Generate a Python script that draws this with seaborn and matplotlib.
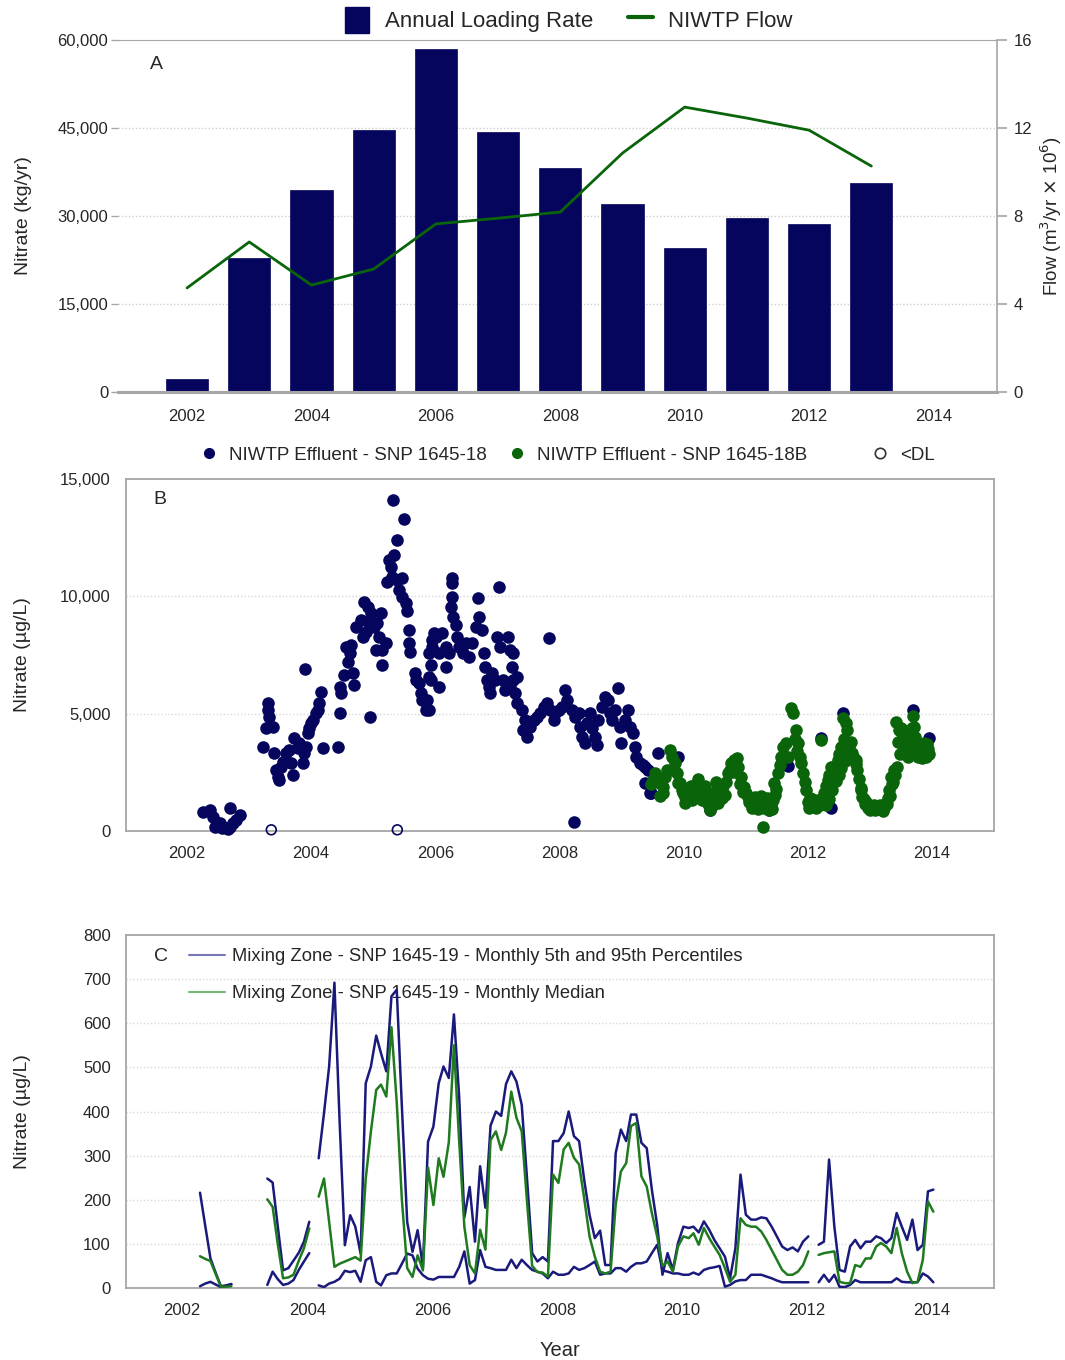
import numpy as np
import pandas as pd
import matplotlib
matplotlib.use("Agg")
import matplotlib.pyplot as plt
import seaborn as sns
from matplotlib.lines import Line2D
from matplotlib.patches import Patch

# ---------------- data ----------------
years_a = [2002, 2003, 2004, 2005, 2006, 2007, 2008, 2009, 2010, 2011, 2012, 2013]
loading_kg = [2200, 22900, 34400, 44700, 58500, 44300, 38200, 32000, 24600, 29700, 28700, 35700]
flow_m3 = [4.73, 6.82, 4.86, 5.59, 7.64, 7.9, 8.18, 10.86, 12.95, 12.45, 11.9, 10.27]

navy_year = [2002.26, 2002.37, 2002.42, 2002.45, 2002.48, 2002.53, 2002.56, 2002.58, 2002.64, 2002.66, 2002.69, 2002.70, 2002.74, 2002.79, 2002.85,
             2003.23, 2003.28, 2003.31, 2003.31, 2003.33, 2003.39, 2003.40, 2003.44, 2003.47, 2003.49, 2003.52, 2003.55, 2003.60, 2003.65, 2003.68,
             2003.71, 2003.73, 2003.79, 2003.81, 2003.87, 2003.89, 2003.91, 2003.92, 2003.95, 2003.97, 2004.00, 2004.03, 2004.08, 2004.11, 2004.13,
             2004.16, 2004.19, 2004.43, 2004.46, 2004.48, 2004.46, 2004.53, 2004.59, 2004.56, 2004.62, 2004.67, 2004.70, 2004.64, 2004.72, 2004.80,
             2004.86, 2004.91, 2004.96, 2004.94, 2004.88, 2004.83, 2005.02, 2005.07, 2005.13, 2005.10, 2005.04, 2005.15, 2005.20, 2005.15, 2004.95,
             2005.23, 2005.26, 2005.34, 2005.29, 2005.31, 2005.39, 2005.47, 2005.42, 2005.46, 2005.53, 2005.55, 2005.32, 2005.50, 2005.39, 2005.58,
             2005.58, 2005.59, 2005.68, 2005.74, 2005.77, 2005.79, 2005.85, 2005.87, 2005.69, 2005.90, 2005.95, 2005.98, 2005.90, 2005.93,
             2005.95, 2006.01, 2005.93, 2005.90, 2006.06, 2006.11, 2006.06, 2006.17, 2006.17, 2006.22, 2006.27, 2006.27, 2006.27, 2006.26, 2006.29,
             2006.33, 2006.35, 2006.38, 2006.44, 2006.49, 2006.54, 2006.60, 2006.65, 2006.70, 2006.69, 2006.76, 2006.78, 2006.81, 2006.84, 2006.86,
             2006.89, 2006.92, 2006.97, 2007.00, 2007.03, 2007.05, 2007.10, 2007.13, 2007.18, 2007.21, 2007.26, 2007.24, 2007.26, 2007.21, 2007.32,
             2007.29, 2007.32, 2007.40, 2007.45, 2007.42, 2007.48, 2007.53, 2007.59, 2007.64, 2007.69, 2007.75, 2007.80, 2007.83, 2007.85, 2007.91,
             2007.93, 2007.99, 2008.04, 2008.09, 2008.12, 2008.20, 2008.25, 2008.31, 2008.33, 2008.36, 2008.41, 2008.44, 2008.49, 2008.52, 2008.58,
             2008.60, 2008.63, 2008.68, 2008.74, 2008.79, 2008.82, 2008.84, 2008.90, 2008.95, 2008.98, 2009.00, 2009.06, 2009.11, 2009.14, 2009.19,
             2009.22, 2009.24, 2009.30, 2009.35, 2009.38, 2009.43, 2009.38, 2009.46, 2009.59, 2008.23, 2009.48,
             2009.91, 2010.42, 2011.38, 2011.68, 2012.37, 2013.95, 2012.56, 2013.69, 2012.21]
navy_value = [824, 895, 611, 185, 327, 327, 114, 185, 114, 70, 185, 966, 327, 469, 682,
              3593, 4374, 5467, 5155, 4870, 4445, 3309, 2599, 2315, 2173, 2741, 2954, 3309, 3451, 2883,
              2386, 3948, 3522, 3735, 2883, 3309, 6887, 3593, 4161, 4374, 4587, 4729, 5013, 5155, 5467,
              5936, 3522, 3593, 5013, 5865, 6149, 6646, 7214, 7853, 7569, 6717, 6220, 7924, 8705, 8989,
              9770, 9557, 9273, 8847, 8492, 8279, 8705, 8847, 9273, 8279, 7711, 7711, 7995, 7072, 4870,
              10622, 11545, 11758, 11261, 10835, 10693, 10764, 10267, 9983, 9699, 9386, 14101, 13277, 12397, 8563,
              7995, 7640, 6717, 6291, 5865, 5581, 5155, 5581, 6433, 7569, 8137, 8421, 6575, 7072,
              7853, 8279, 6433, 5155, 7569, 8421, 6149, 7853, 7001, 7569, 10764, 10551, 9983, 9557, 9131,
              8776, 8279, 7853, 7569, 7995, 7427, 7995, 8705, 9131, 9912, 8563, 7569, 7001, 6433, 6149,
              5865, 6717, 6433, 8279, 10409, 7853, 6433, 6007, 8279, 7711, 7569, 7001, 6433, 6149, 6575,
              5865, 5439, 5155, 4729, 4303, 4019, 4445, 4729, 4871, 5013, 5297, 5439, 8208, 5155, 4729,
              5013, 5155, 5297, 6007, 5581, 5155, 4871, 5013, 4445, 4019, 3735, 4587, 5013, 4374, 4019,
              3664, 4729, 5297, 5723, 5581, 5013, 4729, 5155, 6078, 4445, 3735, 4729, 5155, 4445, 4161,
              3593, 3167, 2883, 2812, 2741, 2599, 2031, 1605, 3309, 398, 1619,
              3167, 895, 895, 2769, 966, 3948, 5013, 5155, 3948]

green_year = [2009.54, 2009.51, 2009.57, 2009.67, 2009.67, 2009.73, 2009.78, 2009.81, 2009.86, 2009.89, 2009.91, 2009.97, 2010.02,
              2009.94, 2009.99, 2010.05, 2010.10, 2010.15, 2010.21, 2010.26, 2010.31, 2010.37, 2010.42, 2010.45, 2010.50, 2010.56, 2010.61,
              2010.66, 2010.72, 2010.77, 2010.82, 2010.88, 2010.93, 2010.98, 2011.04, 2011.09, 2011.17, 2011.22, 2011.28, 2011.33, 2011.38,
              2011.44, 2011.46, 2011.52, 2011.28, 2011.57, 2011.60, 2011.65, 2011.68, 2011.73, 2011.76, 2011.81, 2011.84, 2011.87, 2011.92,
              2011.97, 2012.00, 2012.05, 2012.11, 2012.16, 2012.21, 2012.27, 2012.32, 2012.37, 2012.43, 2012.48, 2012.54, 2012.56, 2012.62,
              2012.64, 2012.67, 2012.72, 2012.78, 2012.80, 2012.86, 2012.88, 2012.94, 2012.99, 2013.04, 2013.12, 2013.20, 2013.26, 2013.31,
              2013.34, 2013.39, 2013.44, 2013.42, 2013.47, 2013.52, 2013.58, 2013.61, 2013.66, 2013.69, 2013.71, 2013.74, 2013.77, 2013.82,
              2013.87, 2013.90,
              2010.08, 2010.13, 2010.19, 2010.24, 2010.29, 2010.34, 2010.40, 2010.48, 2010.53, 2010.58, 2010.64, 2011.13, 2011.20, 2011.25,
              2011.31, 2011.36, 2011.41, 2011.49, 2011.55, 2012.03, 2012.08, 2012.13, 2012.19, 2012.25, 2012.30, 2012.35, 2012.40, 2012.46,
              2012.51, 2012.58, 2012.69, 2012.75, 2012.83, 2012.91, 2012.97, 2013.01, 2013.08, 2013.15, 2013.23, 2013.29, 2013.36, 2013.41,
              2013.46, 2013.50, 2013.55, 2013.63, 2013.68, 2013.73, 2013.79, 2013.84, 2013.93, 2009.48, 2009.62, 2009.70, 2009.83,
              2010.03, 2010.12, 2010.17, 2010.27, 2010.33, 2010.39, 2010.46, 2010.52, 2010.55, 2010.62, 2010.69, 2010.75, 2010.80, 2010.86,
              2010.91, 2010.96, 2011.01, 2011.06, 2011.11, 2011.15, 2011.19, 2011.24, 2011.30, 2011.35, 2011.40, 2011.43, 2011.48, 2011.79,
              2011.83, 2011.89, 2011.95, 2012.02, 2012.07, 2012.14, 2012.23, 2012.29, 2012.34, 2012.39, 2012.45, 2012.50, 2012.53, 2012.60,
              2012.66, 2012.70, 2012.77, 2012.85, 2012.92, 2013.00, 2013.06, 2013.10, 2013.17, 2013.22, 2013.28, 2013.33, 2013.38, 2013.48,
              2013.54, 2013.60, 2013.65, 2013.70, 2013.76, 2013.81, 2013.86, 2013.92, 2013.96]
green_value = [2457, 2173, 2102, 1889, 1605, 2599, 3451, 3167, 2883, 2457, 2031, 1747, 1463,
               2031, 1605, 1392, 1534, 1747, 2031, 1747, 1534, 1321, 895, 1321, 1605, 1889, 1818,
               1534, 2457, 2883, 3025, 2741, 2315, 1889, 1463, 1179, 1108, 1321, 1179, 1108, 895,
               1321, 2031, 2457, 185, 3167, 3593, 3735, 3167, 5226, 5013, 4303, 3735, 3167, 2457,
               1747, 1250, 1179, 1250, 1321, 3877, 1605, 2173, 2741, 2599, 3025, 3593, 4800, 4587,
               4303, 3593, 3309, 3025, 2599, 1747, 1463, 1250, 1108, 966, 966, 966, 1179, 1747,
               2315, 2599, 2741, 4658, 4303, 4161, 3877, 3167, 4019, 4900, 4445, 3593, 3167, 3309,
               3735, 3167,
               1750, 1300, 1600, 2200, 1300, 1900, 1500, 1300, 2100, 1500, 1900, 1350, 950, 1500,
               1300, 1250, 1100, 1800, 2800, 1400, 1050, 1150, 1100, 1300, 1900, 2400, 2300, 2800,
               3300, 3900, 3800, 3100, 2200, 1350, 1000, 1050, 900, 1050, 1000, 1400, 2000, 2400,
               3800, 4400, 3500, 3500, 4400, 4000, 3600, 3100, 3500, 2000, 1500, 2300, 2600,
               1200, 1900, 1450, 1550, 1750, 1150, 1050, 1700, 1200, 1400, 2100, 2600, 2500, 3100,
               2000, 1650, 1600, 1250, 1000, 1450, 1150, 1050, 1000, 1400, 1300, 950, 1550, 3900,
               3400, 2900, 2100, 1000, 1350, 1000, 1250, 1100, 1350, 1750, 2150, 2400, 2700, 3000,
               3400, 3300, 2850, 1850, 1150, 900, 1100, 950, 1100, 850, 1150, 1500, 2100, 3300,
               4000, 3400, 3700, 3900, 3300, 3500, 3400, 3700, 3300]

dl_year = [2003.36, 2005.39]
dl_value = [50, 50]

# Panel C: monthly percentiles of the mixing zone, in four sampling periods
seg_start = ["2002-04-15", "2003-05-13", "2004-03-08", "2012-03-08"]
p95_s1 = [216, 142, 67, 35, 4, 6, 9]
med_s1 = [72, 66, 61, 32, 3, 3, 4]
p05_s1 = [4, 10, 14, 8, 2, 5, 8]
p95_s2 = [248, 239, 140, 40, 45, 62, 80, 105, 150]
med_s2 = [201, 184, 100, 22, 24, 30, 62, 90, 135]
p05_s2 = [7, 37, 20, 7, 10, 18, 41, 60, 79]
p95_s3 = [294, 396, 502, 692, 380, 97, 165, 139, 78, 464,
          502, 572, 532, 491, 661, 676, 411, 150, 82, 131,
          48, 332, 366, 464, 502, 476, 620, 430, 160, 229,
          105, 276, 182, 368, 400, 390, 462, 491, 468, 415,
          253, 79, 60, 70, 60, 333, 333, 351, 400, 344,
          333, 242, 166, 113, 130, 52, 52, 306, 359, 333,
          393, 393, 329, 317, 223, 143, 30, 79, 41, 102,
          139, 136, 139, 126, 151, 132, 109, 90, 71, 22,
          90, 257, 166, 155, 155, 160, 158, 139, 117, 94,
          86, 92, 83, 105, 117]
med_s3 = [207, 248, 150, 48, 55, 60, 65, 70, 62, 248,
          355, 449, 461, 434, 591, 420, 200, 45, 25, 74,
          40, 273, 188, 294, 252, 330, 550, 330, 139, 52,
          33, 132, 87, 335, 355, 313, 352, 445, 386, 355,
          200, 50, 36, 35, 26, 257, 238, 314, 329, 295,
          280, 200, 117, 71, 37, 33, 37, 189, 264, 283,
          367, 374, 253, 230, 170, 117, 50, 60, 37, 94,
          117, 113, 124, 98, 136, 113, 94, 75, 45, 14,
          30, 158, 143, 139, 139, 128, 109, 86, 64, 41,
          30, 30, 37, 52, 83]
p05_s3 = [6, 2, 10, 14, 21, 39, 36, 39, 14, 63,
          70, 14, 6, 29, 33, 33, 55, 78, 74, 44,
          29, 21, 19, 25, 25, 25, 25, 48, 83, 10,
          18, 86, 48, 45, 41, 41, 41, 64, 45, 64,
          52, 41, 37, 33, 22, 37, 30, 30, 33, 48,
          41, 45, 52, 60, 30, 33, 33, 45, 45, 37,
          48, 56, 56, 60, 79, 98, 40, 37, 33, 33,
          30, 30, 35, 30, 41, 45, 47, 50, 3, 7,
          15, 18, 18, 30, 30, 30, 26, 22, 17, 13,
          13, 13, 13, 13, 13]
p95_s4 = [98, 105, 291, 139, 41, 37, 94, 109, 90, 105, 105, 117, 113, 102, 113, 170, 139, 109, 155, 86, 98, 219, 223]
med_s4 = [75, 79, 81, 83, 14, 11, 11, 52, 48, 67, 67, 94, 102, 94, 79, 136, 79, 37, 11, 14, 64, 196, 173]
p05_s4 = [13, 30, 14, 30, 3, 2, 7, 18, 13, 13, 13, 13, 13, 13, 13, 22, 14, 13, 13, 13, 33, 26, 13]

year_ticks = [2002, 2004, 2006, 2008, 2010, 2012, 2014]
legend_b_labels = ["NIWTP Effluent - SNP 1645-18", "NIWTP Effluent - SNP 1645-18B", "<DL"]

# ---------------- style ----------------
NAVY = "#05055e"
GREEN = "#0a640a"
LNAVY = "#1a1a7c"
LGREEN = "#207a20"
GRAY = "#a6a6a6"

sns.set_style("white")
plt.rcParams["font.family"] = ["Liberation Sans", "DejaVu Sans"]

fig = plt.figure(figsize=(10.65, 13.6), dpi=100)
W, H = 1065.0, 1360.0


def box(l, t, r, b):
    return [l / W, 1 - b / H, (r - l) / W, (b - t) / H]


# ---------------- Panel A ----------------
axA = fig.add_axes(box(118, 40, 997, 392))
dfa = pd.DataFrame({"year": years_a, "load": loading_kg, "flow": flow_m3})
sns.barplot(data=dfa, x="year", y="load", native_scale=True, width=0.68,
            color=NAVY, saturation=1, edgecolor=NAVY, linewidth=0.5, ax=axA)
axA.set_xlim(2000.89, 2015.02)
axA.set_ylim(0, 60000)
axA.set_yticks([0, 15000, 30000, 45000, 60000])
axA.set_yticklabels(["0", "15,000", "30,000", "45,000", "60,000"])
axA.set_xticks(year_ticks)
axA.set_xticklabels([str(y) for y in year_ticks])
for v in [15000, 30000, 45000]:
    axA.axhline(v, color="#d0d0d0", lw=1, ls=(0, (1, 1.5)), zorder=0)
axA.spines["left"].set_visible(False)
axA.spines["top"].set_color(GRAY)
axA.spines["right"].set_visible(False)
axA.spines["bottom"].set_color(GRAY)
axA.spines["bottom"].set_linewidth(2.2)
axA.tick_params(axis="x", length=6, color=GRAY, width=1.2, pad=6, labelsize=12)
axA.tick_params(axis="y", length=5, color=GRAY, width=1, pad=2, labelsize=12)
axA.set_xlabel("")
axA.set_ylabel("Nitrate (kg/yr)", fontsize=14)
axA.yaxis.set_label_coords(-0.098, 0.5)
axA.text(0.036, 0.955, "A", transform=axA.transAxes, fontsize=14, va="top")

axA2 = axA.twinx()
sns.lineplot(data=dfa, x="year", y="flow", color=GREEN, lw=2, ax=axA2)
axA2.set_ylim(0, 16)
axA2.set_yticks([0, 4, 8, 12, 16])
axA2.set_yticklabels(["0", "4", "8", "12", "16"])
for sp in ["left", "top", "bottom"]:
    axA2.spines[sp].set_visible(False)
axA2.spines["right"].set_color(GRAY)
axA2.spines["right"].set_linewidth(1.2)
axA2.tick_params(axis="y", length=7, color=GRAY, width=1.2, pad=5, labelsize=12)
axA2.set_ylabel(r"Flow (m$^3$/yr $\times$ 10$^6$)", fontsize=13.5)
axA2.yaxis.set_label_coords(1.047, 0.5)

fig.legend(handles=[Patch(facecolor=NAVY, edgecolor=NAVY), Line2D([], [], color=GREEN, lw=3)],
           labels=["Annual Loading Rate", "NIWTP Flow"], ncol=2, frameon=False,
           loc="center", bbox_to_anchor=(0.534, 1 - 20 / H), prop={"size": 16},
           handlelength=1.1, handleheight=1.4, columnspacing=1.6, handletextpad=0.7)

# ---------------- Panel B ----------------
axB = fig.add_axes(box(126, 479, 994, 831))
dfn = pd.DataFrame({"year": navy_year, "value": navy_value})
dfg = pd.DataFrame({"year": green_year, "value": green_value})
dfd = pd.DataFrame({"year": dl_year, "value": dl_value})
sns.scatterplot(data=dfn, x="year", y="value", color=NAVY, s=82, linewidth=0, ax=axB, clip_on=False, zorder=3)
sns.scatterplot(data=dfg, x="year", y="value", color=GREEN, s=82, linewidth=0, ax=axB, clip_on=False, zorder=4)
sns.scatterplot(data=dfd, x="year", y="value", facecolor="none", edgecolor=NAVY, s=50, linewidth=1.2,
                ax=axB, clip_on=False, zorder=4)
axB.set_xlim(2001.02, 2015.0)
axB.set_ylim(0, 15000)
axB.set_yticks([0, 5000, 10000, 15000])
axB.set_yticklabels(["0", "5,000", "10,000", "15,000"])
axB.set_xticks(year_ticks)
for v in [5000, 10000]:
    axB.axhline(v, color="#d8d8d8", lw=1, ls=(0, (1, 1.5)), zorder=0)
axB.set_xlabel("")
axB.set_ylabel("Nitrate (\u00b5g/L)", fontsize=14)
axB.yaxis.set_label_coords(-0.110, 0.5)
axB.text(0.032, 0.965, "B", transform=axB.transAxes, fontsize=14, va="top")

b_handles = [Line2D([], [], ls="none", marker="o", ms=7, mfc=NAVY, mec=NAVY),
             Line2D([], [], ls="none", marker="o", ms=7, mfc=GREEN, mec=GREEN),
             Line2D([], [], ls="none", marker="o", ms=7.5, mfc="none", mec="#333333", mew=1.2)]
for hnd, lab, xl in zip(b_handles, legend_b_labels, [203, 511, 874]):
    fig.legend(handles=[hnd], labels=[lab], frameon=False, loc="center left",
               bbox_to_anchor=(xl / W, 1 - 455 / H), prop={"size": 13.5},
               handlelength=0.6, handletextpad=0.8, borderpad=0, borderaxespad=0)

# ---------------- Panel C ----------------
axC = fig.add_axes(box(126, 935, 994, 1288))
segments = [(seg_start[0], p95_s1, med_s1, p05_s1),
            (seg_start[1], p95_s2, med_s2, p05_s2),
            (seg_start[2], p95_s3, med_s3, p05_s3),
            (seg_start[3], p95_s4, med_s4, p05_s4)]
for start, p95, med, p05 in segments:
    dates = pd.date_range(start, periods=len(p95), freq=pd.DateOffset(months=1))
    t = dates.year + (dates.dayofyear - 1) / 365.25
    d = pd.DataFrame({"t": t, "p95": p95, "med": med, "p05": p05})
    sns.lineplot(data=d, x="t", y="p95", color=LNAVY, lw=1.8, ax=axC, zorder=3)
    sns.lineplot(data=d, x="t", y="p05", color=LNAVY, lw=1.8, ax=axC, zorder=3)
    sns.lineplot(data=d, x="t", y="med", color=LGREEN, lw=1.8, ax=axC, zorder=4)
axC.set_xlim(2001.1, 2014.99)
axC.set_ylim(0, 800)
axC.set_yticks(range(0, 801, 100))
axC.set_xticks(year_ticks)
for v in range(100, 800, 100):
    axC.axhline(v, color="#d8d8d8", lw=1, ls=(0, (1, 1.5)), zorder=0)
axC.set_xlabel("Year", fontsize=14.5, labelpad=16)
axC.set_ylabel("Nitrate (\u00b5g/L)", fontsize=14)
axC.yaxis.set_label_coords(-0.110, 0.5)
axC.text(0.032, 0.962, "C", transform=axC.transAxes, fontsize=14, va="top")
legC = axC.legend(handles=[Line2D([], [], color="#7777b8", lw=1.5), Line2D([], [], color="#77b877", lw=1.5)],
                  labels=["Mixing Zone - SNP 1645-19 - Monthly 5th and 95th Percentiles",
                          "Mixing Zone - SNP 1645-19 - Monthly Median"],
                  loc="upper left", bbox_to_anchor=(0.053, 1.01), frameon=False,
                  prop={"size": 13.2}, handlelength=2.0, handletextpad=0.35, labelspacing=1.1)
legC.set_zorder(1)

for ax in (axB, axC):
    for sp in ax.spines.values():
        sp.set_color(GRAY)
        sp.set_linewidth(1.3)
    ax.tick_params(axis="both", length=6, color=GRAY, width=1.2, labelsize=12, pad=5)

fig.savefig("out.png", dpi=100)
